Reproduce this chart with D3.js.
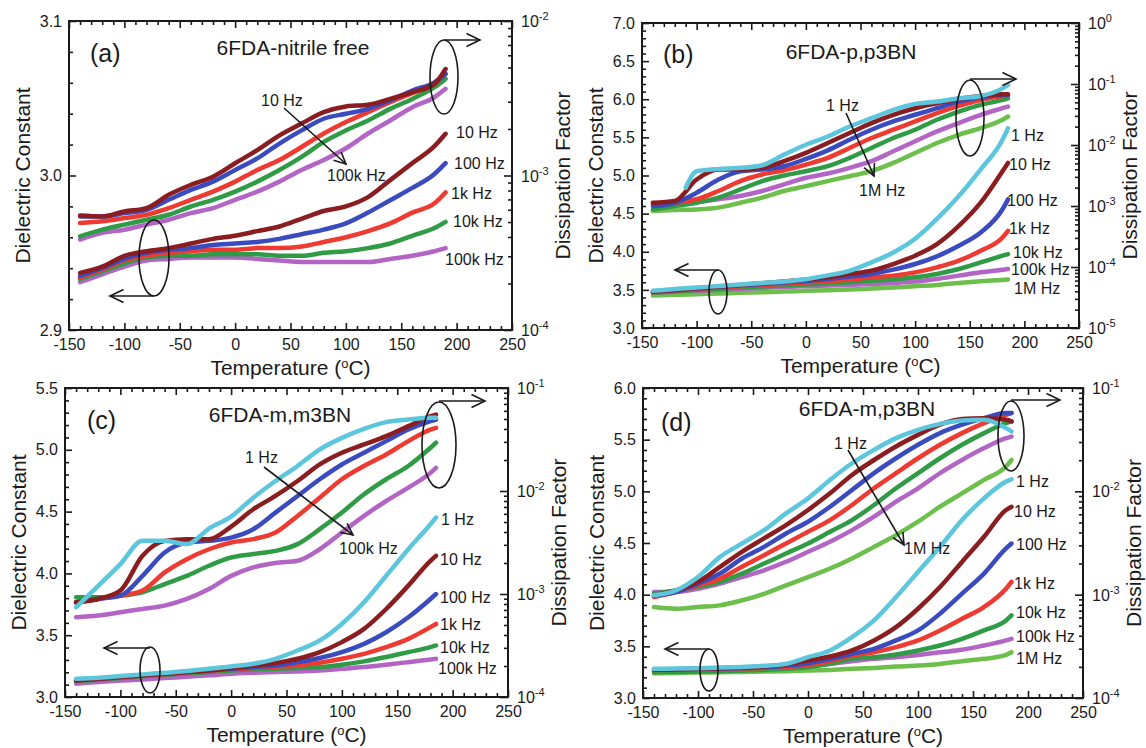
<!DOCTYPE html>
<html><head><meta charset="utf-8">
<script src="https://cdn.jsdelivr.net/npm/d3@7"></script>
<style>
html,body{margin:0;padding:0;background:#fff;}
svg{display:block;}
text{font-family:"Liberation Sans", Arial, Helvetica, sans-serif; fill:#1a1a1a;}
</style></head><body>
<svg id="chart" width="1146" height="748"></svg>
<script>
// ---------------- DATA ----------------
const tempsA = [-140,-120,-100,-80,-60,-40,-20,0,20,40,60,80,100,120,140,160,180,190];
const tempsBCD = [-140,-120,-100,-80,-60,-40,-20,0,20,40,60,80,100,120,140,160,180,185];
const tempsB1HzDF = [-110,-100,-80,-60,-40,-20,0,20,40,60,80,100,120,140,160,180,185];

const freqsA = ["10 Hz","100 Hz","1k Hz","10k Hz","100k Hz"];
const freqsB = ["1 Hz","10 Hz","100 Hz","1k Hz","10k Hz","100k Hz","1M Hz"];
const freqsC = ["1 Hz","10 Hz","100 Hz","1k Hz","10k Hz","100k Hz"];
const freqsD = ["1 Hz","10 Hz","100 Hz","1k Hz","10k Hz","100k Hz","1M Hz"];

// (a) 6FDA-nitrile free : dissipation factor (right axis)
const dfA = [
 [5.5e-4,5.43e-4,5.85e-4,6.15e-4,7.5e-4,8.69e-4,9.83e-4,1.20e-3,1.46e-3,1.82e-3,2.17e-3,2.57e-3,2.80e-3,2.87e-3,3.13e-3,3.46e-3,3.92e-3,4.89e-3],
 [5.43e-4,5.43e-4,5.71e-4,6.0e-4,6.96e-4,8.07e-4,9.13e-4,1.085e-3,1.29e-3,1.61e-3,1.96e-3,2.33e-3,2.51e-3,2.70e-3,3.06e-3,3.55e-3,4.01e-3,4.54e-3],
 [4.92e-4,5.05e-4,5.30e-4,5.57e-4,6.15e-4,6.96e-4,7.87e-4,9.13e-4,1.085e-3,1.258e-3,1.53e-3,1.87e-3,2.22e-3,2.57e-3,2.98e-3,3.41e-3,3.92e-3,4.54e-3],
 [4.04e-4,4.46e-4,4.81e-4,5.17e-4,5.57e-4,6.30e-4,6.96e-4,7.87e-4,9.13e-4,1.085e-3,1.32e-3,1.65e-3,1.96e-3,2.27e-3,2.70e-3,3.13e-3,3.73e-3,4.22e-3],
 [3.85e-4,4.25e-4,4.46e-4,4.81e-4,5.17e-4,5.71e-4,6.15e-4,6.96e-4,7.87e-4,9.13e-4,1.085e-3,1.258e-3,1.50e-3,1.87e-3,2.27e-3,2.77e-3,3.21e-3,3.64e-3]
];
// (a) dielectric constant (left axis)
const epsA = [
 [2.937,2.941,2.948,2.951,2.953,2.956,2.959,2.961,2.964,2.967,2.972,2.977,2.980,2.986,2.997,3.008,3.019,3.027],
 [2.935,2.940,2.946,2.950,2.952,2.953,2.955,2.956,2.957,2.959,2.962,2.965,2.969,2.976,2.984,2.992,3.001,3.008],
 [2.934,2.939,2.945,2.948,2.950,2.951,2.952,2.952,2.953,2.953,2.954,2.957,2.960,2.964,2.969,2.976,2.982,2.989],
 [2.933,2.938,2.943,2.947,2.948,2.948,2.949,2.949,2.949,2.948,2.948,2.950,2.951,2.953,2.956,2.961,2.966,2.970],
 [2.931,2.936,2.941,2.945,2.946,2.947,2.947,2.947,2.946,2.945,2.944,2.944,2.944,2.944,2.946,2.948,2.951,2.953]
];

// (b) 6FDA-p,p3BN
const dfB = [
 [0.00199,0.00372,0.00406,0.00422,0.00466,0.00695,0.0101,0.0138,0.0201,0.0275,0.0377,0.0472,0.0515,0.0584,0.0637,0.0849,0.0964],
 [0.00113,0.00121,0.00272,0.00396,0.00396,0.00422,0.00542,0.00741,0.0108,0.0157,0.0229,0.0313,0.0401,0.0484,0.0569,0.0637,0.0679,0.0679],
 [0.0010,0.00113,0.00165,0.00272,0.00372,0.00396,0.00449,0.00591,0.00818,0.0122,0.0178,0.0243,0.0313,0.0401,0.0515,0.0606,0.0662,0.0662],
 [0.00106,0.00113,0.00129,0.00176,0.00256,0.00328,0.00386,0.00478,0.00614,0.00893,0.013,0.0178,0.0243,0.0333,0.0438,0.0548,0.0637,0.0662],
 [0.00088,0.0010,0.00113,0.00137,0.00187,0.00256,0.00316,0.00372,0.00449,0.00614,0.00893,0.013,0.0178,0.0259,0.0354,0.0455,0.0548,0.0584],
 [0.0011,0.00113,0.00116,0.00129,0.00146,0.00176,0.00226,0.0029,0.00341,0.00422,0.00542,0.00788,0.0115,0.0167,0.0229,0.0313,0.0401,0.0427],
 [0.00083,0.00086,0.00088,0.00094,0.00113,0.00137,0.00176,0.00212,0.00256,0.00308,0.00372,0.00509,0.00741,0.0108,0.0147,0.0189,0.0259,0.0293]
];
const epsB = [
 [3.49,3.51,3.53,3.55,3.57,3.59,3.61,3.64,3.69,3.75,3.86,3.99,4.17,4.43,4.73,5.08,5.47,5.62],
 [3.478,3.50,3.522,3.543,3.565,3.587,3.609,3.635,3.665,3.709,3.752,3.839,3.948,4.10,4.339,4.643,5.057,5.165],
 [3.478,3.496,3.517,3.539,3.561,3.578,3.596,3.617,3.643,3.674,3.709,3.765,3.839,3.939,4.078,4.252,4.557,4.687],
 [3.470,3.487,3.509,3.530,3.548,3.565,3.578,3.596,3.613,3.635,3.665,3.687,3.730,3.796,3.883,4.013,4.187,4.274],
 [3.461,3.478,3.496,3.513,3.530,3.543,3.557,3.570,3.587,3.600,3.622,3.635,3.665,3.709,3.774,3.861,3.948,3.970],
 [3.461,3.474,3.487,3.500,3.513,3.526,3.539,3.548,3.557,3.565,3.578,3.591,3.609,3.643,3.687,3.730,3.765,3.774],
 [3.426,3.435,3.443,3.452,3.461,3.470,3.478,3.487,3.496,3.504,3.517,3.530,3.548,3.565,3.591,3.613,3.630,3.635]
];

// (c) 6FDA-m,m3BN
const dfC = [
 [0.000743,0.0012,0.00195,0.00328,0.00328,0.00305,0.00432,0.00565,0.00861,0.0125,0.0175,0.0253,0.0328,0.0401,0.0466,0.0494,0.0513,0.0513],
 [0.00083,0.000895,0.00108,0.00235,0.00328,0.00341,0.00341,0.00452,0.00665,0.00895,0.0125,0.0181,0.0235,0.0283,0.0341,0.0426,0.0532,0.0552],
 [0.00083,0.000895,0.000964,0.0015,0.00253,0.00316,0.00328,0.00353,0.00426,0.00617,0.00895,0.013,0.0181,0.0235,0.0305,0.0395,0.0476,0.0494],
 [0.00083,0.000895,0.000964,0.00108,0.00162,0.00218,0.00272,0.00316,0.00341,0.00395,0.00573,0.00861,0.013,0.0175,0.0226,0.0305,0.0395,0.041],
 [0.000929,0.000929,0.000964,0.00104,0.00125,0.0015,0.00188,0.00226,0.00244,0.00262,0.00305,0.00426,0.00617,0.00929,0.013,0.0175,0.0263,0.0294],
 [0.000595,0.000617,0.000665,0.000716,0.000771,0.000895,0.00112,0.0015,0.00181,0.0020,0.0021,0.00272,0.00395,0.00573,0.0080,0.0108,0.0150,0.0168]
];
const epsC = [
 [3.148,3.156,3.169,3.183,3.196,3.210,3.228,3.247,3.269,3.309,3.376,3.457,3.591,3.766,3.981,4.196,4.398,4.452],
 [3.134,3.148,3.161,3.175,3.188,3.202,3.215,3.234,3.255,3.274,3.309,3.363,3.444,3.551,3.712,3.901,4.102,4.142],
 [3.134,3.148,3.161,3.175,3.188,3.202,3.215,3.228,3.242,3.255,3.282,3.315,3.363,3.430,3.524,3.645,3.793,3.833],
 [3.132,3.145,3.159,3.172,3.185,3.199,3.212,3.223,3.234,3.245,3.255,3.277,3.309,3.349,3.403,3.470,3.565,3.591],
 [3.126,3.140,3.153,3.167,3.180,3.191,3.202,3.215,3.223,3.228,3.234,3.242,3.261,3.288,3.323,3.363,3.403,3.417],
 [3.108,3.121,3.134,3.142,3.153,3.164,3.175,3.188,3.196,3.202,3.207,3.215,3.228,3.242,3.261,3.282,3.304,3.309]
];

// (d) 6FDA-m,p3BN
const dfD = [
 [0.000985,0.0011,0.00148,0.00232,0.00313,0.00421,0.00611,0.00855,0.0129,0.0187,0.0252,0.0327,0.0394,0.045,0.0485,0.0493,0.0409,0.038],
 [0.000985,0.0011,0.00133,0.00186,0.0026,0.0035,0.00471,0.00659,0.00956,0.0144,0.0201,0.0272,0.0352,0.0441,0.050,0.0511,0.0493,0.0475],
 [0.000985,0.00106,0.00128,0.0016,0.00224,0.0029,0.00391,0.00508,0.0071,0.0103,0.015,0.0209,0.0282,0.0366,0.0441,0.0511,0.0572,0.0572],
 [0.000949,0.00106,0.00123,0.00143,0.00186,0.00241,0.00313,0.00406,0.00527,0.00737,0.0107,0.015,0.0209,0.0282,0.0366,0.0457,0.0551,0.0572],
 [0.00102,0.0011,0.00119,0.00133,0.0016,0.0020,0.0025,0.00313,0.00406,0.00527,0.00737,0.0107,0.015,0.0209,0.0282,0.0366,0.0457,0.0475],
 [0.00106,0.00106,0.00114,0.00128,0.00148,0.00172,0.00208,0.0026,0.00325,0.00421,0.00568,0.00794,0.0107,0.015,0.0201,0.0262,0.0327,0.0339],
 [0.000759,0.000731,0.000759,0.000788,0.000881,0.00102,0.00123,0.00148,0.00179,0.00224,0.0029,0.00377,0.00508,0.0071,0.00956,0.0129,0.0174,0.0201]
];
const epsD = [
 [3.282,3.285,3.288,3.294,3.301,3.311,3.330,3.395,3.460,3.589,3.751,3.977,4.220,4.463,4.722,4.932,5.094,5.117],
 [3.275,3.278,3.282,3.288,3.294,3.304,3.324,3.362,3.401,3.460,3.557,3.686,3.864,4.074,4.317,4.560,4.819,4.851],
 [3.275,3.278,3.282,3.285,3.291,3.298,3.311,3.337,3.379,3.427,3.476,3.557,3.654,3.816,4.010,4.204,4.447,4.495],
 [3.272,3.275,3.278,3.282,3.285,3.291,3.301,3.320,3.356,3.411,3.443,3.492,3.557,3.654,3.767,3.880,4.058,4.123],
 [3.249,3.252,3.256,3.259,3.265,3.272,3.282,3.298,3.330,3.379,3.395,3.421,3.460,3.508,3.573,3.654,3.751,3.799],
 [3.265,3.265,3.269,3.272,3.275,3.282,3.291,3.307,3.330,3.356,3.379,3.395,3.417,3.443,3.466,3.508,3.557,3.573],
 [3.239,3.243,3.246,3.249,3.252,3.256,3.259,3.265,3.272,3.282,3.291,3.304,3.314,3.330,3.356,3.379,3.417,3.443]
];

const xTicksMajor = [-150,-100,-50,0,50,100,150,200,250];

// ---------------- STYLE / LAYOUT ----------------
const freqColor = {"1 Hz":"#5cc6dd","10 Hz":"#8a1d20","100 Hz":"#3a4bbf","1k Hz":"#ee3a31",
                   "10k Hz":"#2f9b45","100k Hz":"#b265c5","1M Hz":"#6bbf4a"};

const panels = [
 {box:[69,21,512,330], yL:[2.9,3.1], lMaj:0.1, lMin:0.02, yR:[1e-4,1e-2],
  temps:tempsA, freqs:freqsA, df:dfA, eps:epsA, dfTemps:{},
  letter:["(a)",90,62], title:["6FDA-nitrile free",293,55],
  arrowLabels:[["10 Hz",261,106],["100k Hz",327,181]], arrow:[284,108,346,164],
  rightLabels:[[456,138],[454,169],[451,199],[453,227],[445,265]],
  ellUp:[444,77,14,37,480,40], ellLo:[154,258,15,38,110,296]},
 {box:[642,23,1079,328], yL:[3.0,7.0], lMaj:0.5, lMin:0.1, yR:[1e-5,1],
  temps:tempsBCD, freqs:freqsB, df:dfB, eps:epsB, dfTemps:{0:tempsB1HzDF},
  letter:["(b)",663,63], title:["6FDA-p,p3BN",851,59],
  arrowLabels:[["1 Hz",826,111],["1M Hz",859,196]], arrow:[846,113,874,176],
  rightLabels:[[1011,141],[1009,170],[1007,206],[1009,234],[1013,258],[1011,275],[1014,294]],
  ellUp:[970,118,14,38,1016,79], ellLo:[718,292,9,22,675,270]},
 {box:[65,388,508,697], yL:[3.0,5.5], lMaj:0.5, lMin:0.1, yR:[1e-4,1e-1],
  temps:tempsBCD, freqs:freqsC, df:dfC, eps:epsC, dfTemps:{},
  letter:["(c)",87,429], title:["6FDA-m,m3BN",280,422],
  arrowLabels:[["1 Hz",245,463],["100k Hz",339,554]], arrow:[264,467,353,535],
  rightLabels:[[441,525],[440,565],[440,603],[440,630],[440,653],[438,674]],
  ellUp:[439,445,17,43,485,401], ellLo:[150,670,10,23,104,648]},
 {box:[643,388,1083,698], yL:[3.0,6.0], lMaj:0.5, lMin:0.1, yR:[1e-4,1e-1],
  temps:tempsBCD, freqs:freqsD, df:dfD, eps:epsD, dfTemps:{},
  letter:["(d)",661,431], title:["6FDA-m,p3BN",867,416],
  arrowLabels:[["1 Hz",834,449],["1M Hz",904,554]], arrow:[848,450,904,545],
  rightLabels:[[1016,487],[1014,517],[1016,550],[1014,589],[1016,618],[1016,642],[1016,664]],
  ellUp:[1011,436,13,35,1060,400], ellLo:[709,670,9,21,665,649]}
];

const svg = d3.select("#chart");
const INK = "#1a1a1a";

function rangeSteps(lo, hi, step){
  const n = Math.round((hi-lo)/step);
  return d3.range(n+1).map(i => +(lo + i*step).toFixed(6));
}

function arrowHead(g, x2, y2, ang, len){
  const a1 = ang + Math.PI - 0.45, a2 = ang + Math.PI + 0.45;
  g.append("path")
   .attr("d", `M${x2+len*Math.cos(a1)},${y2+len*Math.sin(a1)}L${x2},${y2}L${x2+len*Math.cos(a2)},${y2+len*Math.sin(a2)}`)
   .attr("fill","none").attr("stroke",INK).attr("stroke-width",1.6);
}
function arrow(g, x1, y1, x2, y2, len){
  g.append("line").attr("x1",x1).attr("y1",y1).attr("x2",x2).attr("y2",y2)
   .attr("stroke",INK).attr("stroke-width",1.6);
  arrowHead(g, x2, y2, Math.atan2(y2-y1, x2-x1), len);
}

function styleAxis(sel, showText){
  sel.select(".domain").remove();
  sel.selectAll(".tick line").attr("stroke",INK).attr("stroke-width",1.6);
  sel.selectAll(".tick text").attr("fill",INK).style("font-size","16px")
     .style("font-family",'"Liberation Sans", Arial, sans-serif');
  if(!showText) sel.selectAll(".tick text").remove();
  sel.attr("font-family",null).attr("font-size",null);
}

panels.forEach(p => {
  const [x0,y0,x1,y1] = p.box;
  const g = svg.append("g");
  const x = d3.scaleLinear([-150,250],[x0,x1]);
  const yL = d3.scaleLinear(p.yL,[y1,y0]);
  const yR = d3.scaleLog(p.yR,[y1,y0]);

  // curves
  const line = (ys) => d3.line().x(d=>x(d[0])).y(d=>ys(d[1])).curve(d3.curveMonotoneX);
  const order = d3.range(p.freqs.length).reverse();
  order.forEach(i => {
    const col = freqColor[p.freqs[i]];
    const tDF = p.dfTemps[i] || p.temps;
    g.append("path").datum(tDF.map((t,k)=>[t,p.df[i][k]]))
      .attr("d", line(yR)).attr("fill","none").attr("stroke",col)
      .attr("stroke-width",4.5).attr("stroke-linejoin","round").attr("stroke-linecap","round");
  });
  order.forEach(i => {
    const col = freqColor[p.freqs[i]];
    g.append("path").datum(p.temps.map((t,k)=>[t,p.eps[i][k]]))
      .attr("d", line(yL)).attr("fill","none").attr("stroke",col)
      .attr("stroke-width",4.5).attr("stroke-linejoin","round").attr("stroke-linecap","round");
  });

  // x axes
  const xMinor = d3.range(-150,251,10).filter(v => v % 50 !== 0);
  styleAxis(g.append("g").attr("transform",`translate(0,${y1})`)
     .call(d3.axisBottom(x).tickValues(xTicksMajor).tickSize(-7).tickPadding(9).tickFormat(d=>String(d))), true);
  styleAxis(g.append("g").attr("transform",`translate(0,${y1})`)
     .call(d3.axisBottom(x).tickValues(xMinor).tickSize(-4).tickFormat("")), false);
  styleAxis(g.append("g").attr("transform",`translate(0,${y0})`)
     .call(d3.axisTop(x).tickValues(xTicksMajor).tickSize(-7).tickFormat("")), false);
  styleAxis(g.append("g").attr("transform",`translate(0,${y0})`)
     .call(d3.axisTop(x).tickValues(xMinor).tickSize(-4).tickFormat("")), false);

  // left axis
  const lMajor = rangeSteps(p.yL[0], p.yL[1], p.lMaj);
  const lMinor = rangeSteps(p.yL[0], p.yL[1], p.lMin)
       .filter(v => Math.abs(v/p.lMaj - Math.round(v/p.lMaj)) > 1e-6);
  styleAxis(g.append("g").attr("transform",`translate(${x0},0)`)
     .call(d3.axisLeft(yL).tickValues(lMajor).tickSize(-7).tickPadding(7).tickFormat(d=>d.toFixed(1))), true);
  styleAxis(g.append("g").attr("transform",`translate(${x0},0)`)
     .call(d3.axisLeft(yL).tickValues(lMinor).tickSize(-4).tickFormat("")), false);

  // right log axis
  const e0 = Math.round(Math.log10(p.yR[0])), e1 = Math.round(Math.log10(p.yR[1]));
  const rMajor = d3.range(e0, e1+1).map(e => Math.pow(10,e));
  const rMinor = [];
  for(let e=e0; e<e1; e++) for(let k=2;k<=9;k++) rMinor.push(k*Math.pow(10,e));
  styleAxis(g.append("g").attr("transform",`translate(${x1},0)`)
     .call(d3.axisRight(yR).tickValues(rMajor).tickSize(-8).tickFormat("")), false);
  styleAxis(g.append("g").attr("transform",`translate(${x1},0)`)
     .call(d3.axisRight(yR).tickValues(rMinor).tickSize(-4).tickFormat("")), false);
  d3.range(e0, e1+1).forEach(e => {
    const t = g.append("text").attr("x", x1+9).attr("y", yR(Math.pow(10,e))+6)
      .style("font-size","16px").attr("fill",INK).text("10");
    t.append("tspan").attr("dy",-7).style("font-size","11px").text(String(e));
  });

  // frame
  g.append("rect").attr("x",x0).attr("y",y0).attr("width",x1-x0).attr("height",y1-y0)
   .attr("fill","none").attr("stroke",INK).attr("stroke-width",2);

  // axis titles
  const xt = g.append("text").attr("x",(x0+x1)/2).attr("y",y1+45).attr("text-anchor","middle")
     .style("font-size","21px").attr("fill",INK).text("Temperature (");
  xt.append("tspan").attr("dy",-7).style("font-size","13px").text("o");
  xt.append("tspan").attr("dy",7).text("C)");
  g.append("text").attr("transform",`translate(${x0-47},${(y0+y1)/2}) rotate(-90)`)
   .attr("text-anchor","middle").attr("dominant-baseline","central")
   .style("font-size","21px").attr("fill",INK).text("Dielectric Constant");
  g.append("text").attr("transform",`translate(${x1+50},${(y0+y1)/2}) rotate(-90)`)
   .attr("text-anchor","middle").attr("dominant-baseline","central")
   .style("font-size","21px").attr("fill",INK).text("Dissipation Factor");

  // panel letter and title
  g.append("text").attr("x",p.letter[1]).attr("y",p.letter[2]).style("font-size","25px")
   .attr("fill",INK).text(p.letter[0]);
  g.append("text").attr("x",p.title[1]).attr("y",p.title[2]).attr("text-anchor","middle")
   .style("font-size","21px").attr("fill",INK).text(p.title[0]);

  // frequency annotations
  p.arrowLabels.forEach(l => g.append("text").attr("x",l[1]).attr("y",l[2])
     .style("font-size","16px").attr("fill",INK).text(l[0]));
  arrow(g, p.arrow[0], p.arrow[1], p.arrow[2], p.arrow[3], 13);
  p.rightLabels.forEach((l,i) => g.append("text").attr("x",l[0]).attr("y",l[1])
     .style("font-size","16px").attr("fill",INK).text(p.freqs[i]));

  // ellipses with axis arrows
  const [ucx,ucy,urx,ury,uax,uay] = p.ellUp;
  g.append("ellipse").attr("cx",ucx).attr("cy",ucy).attr("rx",urx).attr("ry",ury)
   .attr("fill","none").attr("stroke",INK).attr("stroke-width",1.6);
  arrow(g, ucx, uay, uax, uay, 15);
  const [lcx,lcy,lrx,lry,lax,lay] = p.ellLo;
  g.append("ellipse").attr("cx",lcx).attr("cy",lcy).attr("rx",lrx).attr("ry",lry)
   .attr("fill","none").attr("stroke",INK).attr("stroke-width",1.6);
  arrow(g, lcx, lay, lax, lay, 15);
});
</script>
</body></html>
